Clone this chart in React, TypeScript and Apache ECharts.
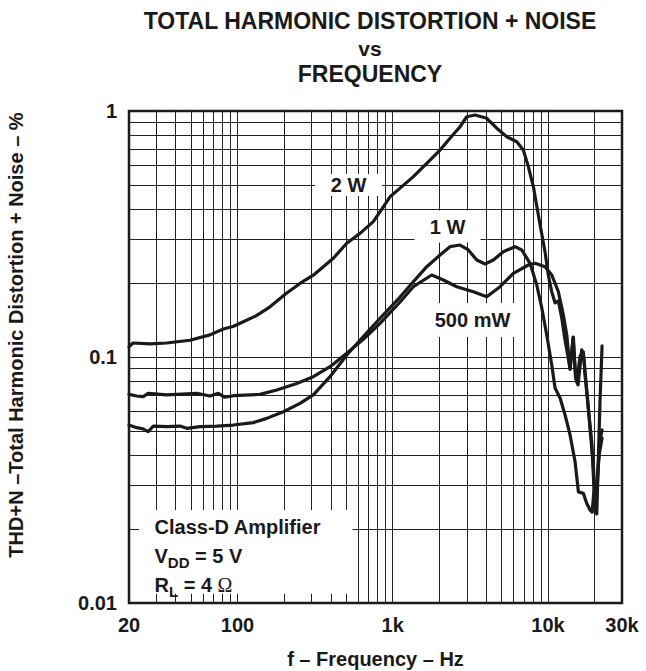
import React, { useEffect, useRef } from 'react';
import * as echarts from 'echarts';

// ---- data (frequency in Hz, THD+N in %) ----
const seriesNames = ['2 W', '1 W', '500 mW'];

const curve2W: [number, number][] = [
  [20, 0.110], [21.2, 0.114], [27.3, 0.113], [35, 0.114], [49.4, 0.117], [66.5, 0.123],
  [81, 0.130], [93.6, 0.133], [109, 0.139], [131.6, 0.147], [162, 0.160], [207.6, 0.182],
  [252.8, 0.199], [307.9, 0.215], [414.5, 0.252], [505.4, 0.290], [615.8, 0.318], [750, 0.355],
  [870, 0.408], [961, 0.448], [1115, 0.486], [1358, 0.541], [1657, 0.613], [2018, 0.694],
  [2340, 0.775], [2715, 0.863], [2999, 0.948], [3392, 0.963], [4036, 0.934], [4680, 0.851],
  [5427, 0.786], [6297, 0.750], [6943, 0.694], [7477, 0.594], [8054, 0.493], [8898, 0.345],
  [9581, 0.267], [10060, 0.215], [10583, 0.184], [11112, 0.166], [11673, 0.169], [12274, 0.144],
  [12893, 0.117], [13479, 0.100], [13886, 0.089], [14517, 0.120], [15064, 0.082], [15631, 0.077],
  [16516, 0.107], [17089, 0.097], [17787, 0.073], [18681, 0.051], [19616, 0.036], [20118, 0.026],
  [20629, 0.023], [21031, 0.035], [21666, 0.067], [22319, 0.111],
];

const curve1W: [number, number][] = [
  [20, 0.0529], [22.4, 0.0516], [24.6, 0.051], [26.6, 0.0497], [28.7, 0.0524], [35, 0.0521],
  [42.6, 0.0524], [47.1, 0.0513], [57.4, 0.0521], [73.5, 0.0524], [94, 0.0529], [126.5, 0.0541],
  [154.3, 0.0563], [197.4, 0.0599], [252.8, 0.0648], [307.9, 0.0701], [394.7, 0.0832],
  [505.4, 0.1019], [646.8, 0.121], [828.6, 0.1437], [1115, 0.1753], [1358, 0.2024],
  [1657, 0.2329], [2018, 0.2598], [2340, 0.2809], [2715, 0.2852], [3071, 0.2723], [3479, 0.2479],
  [3934, 0.2388], [4449, 0.2479], [5162, 0.268], [6139, 0.2809], [6783, 0.2723], [7671, 0.2404],
  [8472, 0.1962], [9126, 0.1582], [9826, 0.1229], [10583, 0.0928], [11112, 0.0748],
  [11973, 0.0681], [12893, 0.0581], [13886, 0.0482], [14956, 0.0375], [15710, 0.0283],
  [16920, 0.0279], [17787, 0.0254], [18681, 0.0239], [19245, 0.0234], [19826, 0.0288],
  [20424, 0.0243], [21031, 0.0347], [21666, 0.046], [22319, 0.0505],
];

const curve500mW: [number, number][] = [
  [20, 0.0705], [22.4, 0.0694], [24.7, 0.069], [26.6, 0.0712], [35, 0.0701], [54.6, 0.0712],
  [66.5, 0.0694], [75.2, 0.0712], [83.1, 0.0686], [94, 0.0696], [139.7, 0.0705], [178.9, 0.0734],
  [240.8, 0.0781], [307.9, 0.0832], [394.7, 0.0913], [505.4, 0.1035], [646.8, 0.118],
  [828.6, 0.1371], [1115, 0.1673], [1358, 0.1931], [1784, 0.2154], [2120, 0.2056],
  [2585, 0.1931], [3308, 0.1842], [4036, 0.1758], [4914, 0.1931], [5989, 0.2189], [7477, 0.2366],
  [8260, 0.2404], [9581, 0.2329], [10583, 0.2154], [11673, 0.1842], [12570, 0.1482],
  [13222, 0.1229], [13543, 0.1048], [13886, 0.0902], [14584, 0.1206], [14956, 0.0902],
  [15335, 0.0791], [16106, 0.1009], [16920, 0.1048], [17340, 0.0845], [18213, 0.062],
  [19156, 0.0451], [19616, 0.0331], [20118, 0.0234], [20731, 0.0316], [21350, 0.04],
  [22319, 0.0468],
];

const xGridValues = [
  30, 40, 50, 60, 70, 80, 90, 100, 200, 300, 400, 500, 600, 700, 800, 900, 1000,
  2000, 3000, 4000, 5000, 6000, 7000, 8000, 9000, 10000, 20000,
];
const yGridValues = [
  0.02, 0.03, 0.04, 0.05, 0.06, 0.07, 0.08, 0.09, 0.1, 0.2, 0.3, 0.4, 0.5, 0.6, 0.7, 0.8, 0.9,
];

// annotation anchors in data coordinates [Hz, %]
const curveLabelAnchors: [number, number][] = [
  [520, 0.5],
  [2256, 0.339],
  [3268, 0.1414],
];
const noteLines = ['Class-D Amplifier', 'V|DD| = 5 V', 'R|L| = 4 |Ω'];
const noteAnchor: [number, number] = [29.2, 0.0203];
const noteBoxCorners: [number, number][] = [[23.2, 0.0239], [550, 0.0109]];

const titleLines = ['TOTAL HARMONIC DISTORTION + NOISE', 'vs', 'FREQUENCY'];
const xAxisTitle = 'f – Frequency – Hz';
const yAxisTitle = 'THD+N –Total Harmonic Distortion + Noise – %';

const FONT = '"Liberation Sans", Arial, Helvetica, sans-serif';
const INK = '#1a1a1a';

function measure(text: string, font: string): number {
  const c = document.createElement('canvas').getContext('2d');
  if (!c) return text.length * 10;
  c.font = font;
  return c.measureText(text).width;
}

export default function App() {
  const ref = useRef<HTMLDivElement>(null);

  useEffect(() => {
    if (!ref.current) return;
    const chart = echarts.init(ref.current, null, { renderer: 'svg' });
    const curves = [curve2W, curve1W, curve500mW];

    const axisLabelStyle = {
      color: INK,
      fontFamily: FONT,
      fontWeight: 'bold' as const,
      fontSize: 20,
    };

    chart.setOption({
      animation: false,
      backgroundColor: '#ffffff',
      grid: {
        left: 129,
        top: 111,
        width: 493,
        height: 492,
        show: true,
        borderColor: INK,
        borderWidth: 2.5,
        backgroundColor: 'transparent',
        containLabel: false,
        outerBoundsMode: 'none',
      },
      xAxis: {
        type: 'log',
        logBase: 10,
        min: 20,
        max: 30000,
        axisLine: { show: false },
        axisTick: { show: false },
        splitLine: { show: false },
        axisLabel: {
          ...axisLabelStyle,
          margin: 12,
          showMinLabel: true,
          showMaxLabel: true,
          hideOverlap: false,
          formatter: (v: number) =>
            v >= 1000 ? `${Math.round(v / 1000)}k` : `${Math.round(v)}`,
        },
        name: xAxisTitle,
        nameLocation: 'middle',
        nameGap: 46,
        nameTextStyle: { ...axisLabelStyle },
      },
      yAxis: {
        type: 'log',
        logBase: 10,
        min: 0.01,
        max: 1,
        axisLine: { show: false },
        axisTick: { show: false },
        splitLine: { show: false },
        axisLabel: {
          ...axisLabelStyle,
          margin: 12,
          showMinLabel: true,
          showMaxLabel: true,
          formatter: (v: number) => `${Number(v.toPrecision(2))}`,
        },
      },
      series: curves.map((data, i) => ({
        type: 'line',
        name: seriesNames[i],
        data,
        showSymbol: false,
        symbol: 'none',
        z: 3,
        lineStyle: { color: INK, width: 3.2, join: 'round', cap: 'round' },
        silent: true,
        markLine:
          i === 0
            ? {
                silent: true,
                z: 1,
                symbol: ['none', 'none'],
                label: { show: false },
                lineStyle: { color: '#222222', width: 1, type: 'solid' },
                data: [
                  ...xGridValues.map((v) => ({ xAxis: v })),
                  ...yGridValues.map((v) => ({ yAxis: v })),
                ],
              }
            : undefined,
      })),
    });

    const px = (p: [number, number]) =>
      chart.convertToPixel({ gridIndex: 0 }, p) as number[];

    const elements: any[] = [];

    // title
    titleLines.forEach((t, i) => {
      elements.push({
        type: 'text',
        x: 370,
        y: [21, 48, 74][i],
        z: 4,
        style: {
          text: t,
          fill: INK,
          font: `bold ${i === 1 ? 21 : 23}px ${FONT}`,
          textAlign: 'center',
          textVerticalAlign: 'middle',
        },
      });
    });

    // y axis title
    elements.push({
      type: 'text',
      x: 16,
      y: 335,
      rotation: Math.PI / 2,
      z: 4,
      style: {
        text: yAxisTitle,
        fill: INK,
        font: `bold 20px ${FONT}`,
        textAlign: 'center',
        textVerticalAlign: 'middle',
      },
    });

    // curve labels with white knock-out boxes
    const boxSizes = [[67, 22], [66, 32], [101, 34]];
    curveLabelAnchors.forEach((a, i) => {
      const [cx, cy] = px(a);
      const [w, h] = boxSizes[i];
      elements.push({
        type: 'rect',
        z: 2,
        silent: true,
        shape: { x: cx - w / 2, y: cy - h / 2, width: w, height: h },
        style: { fill: '#ffffff' },
      });
      elements.push({
        type: 'text',
        x: cx,
        y: cy,
        z: 4,
        style: {
          text: seriesNames[i],
          fill: INK,
          font: `bold 20px ${FONT}`,
          textAlign: 'center',
          textVerticalAlign: 'middle',
        },
      });
    });

    // note box
    const [b0x, b0y] = px(noteBoxCorners[0]);
    const [b1x, b1y] = px(noteBoxCorners[1]);
    elements.push({
      type: 'rect',
      z: 2,
      silent: true,
      shape: { x: b0x, y: b0y, width: b1x - b0x, height: b1y - b0y },
      style: { fill: '#ffffff' },
    });
    const [nx, ny] = px(noteAnchor);
    noteLines.forEach((line, li) => {
      const parts = line.split('|');
      let x = nx;
      const yc = ny + li * 29;
      parts.forEach((part, pi) => {
        if (!part) return;
        const isSub = pi === 1;
        const isOmega = part === 'Ω';
        const font = isOmega
          ? `20px "Liberation Serif", "Times New Roman", serif`
          : `bold ${isSub ? 15 : 20}px ${FONT}`;
        elements.push({
          type: 'text',
          x,
          y: yc + (isSub ? 6 : 0),
          z: 4,
          style: {
            text: part,
            fill: INK,
            font,
            textAlign: 'left',
            textVerticalAlign: 'middle',
          },
        });
        x += measure(part, font);
      });
    });

    chart.setOption({ graphic: { elements } });

    return () => chart.dispose();
  }, []);

  return (
    <div
      ref={ref}
      style={{ position: 'absolute', left: 0, top: 0, width: 646, height: 671 }}
    />
  );
}
